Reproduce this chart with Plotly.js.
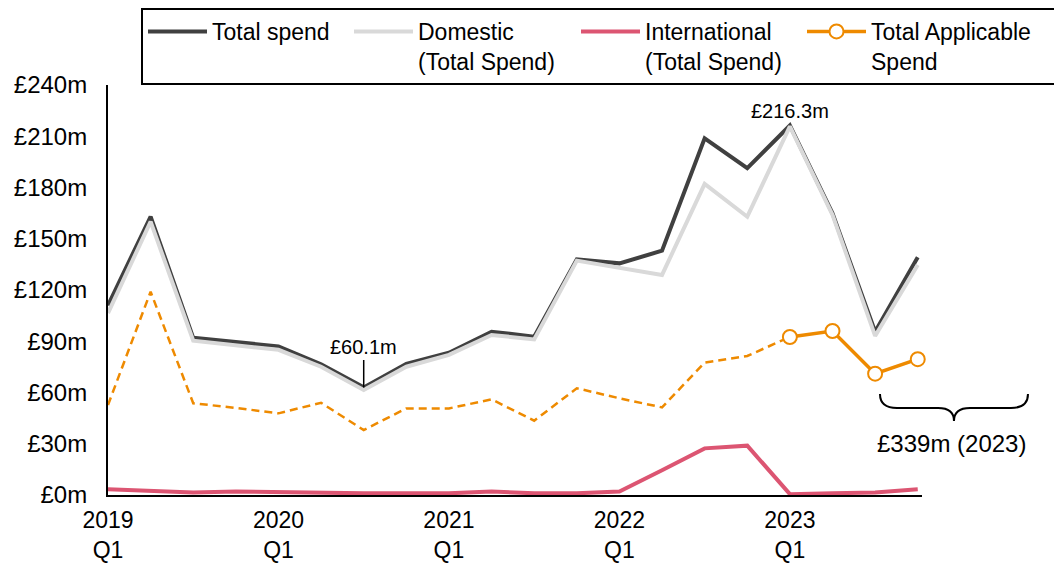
<!DOCTYPE html>
<html>
<head>
<meta charset="utf-8">
<script src="https://cdn.plot.ly/plotly-3.0.1.min.js"></script>
<style>
  html, body { margin: 0; padding: 0; background: #ffffff; }
  #chart { width: 1054px; height: 563px; }
</style>
</head>
<body>
<div id="chart"></div>
<script>
// ---- Data (£ millions) ----
const quarters = [
  '2019 Q1','2019 Q2','2019 Q3','2019 Q4',
  '2020 Q1','2020 Q2','2020 Q3','2020 Q4',
  '2021 Q1','2021 Q2','2021 Q3','2021 Q4',
  '2022 Q1','2022 Q2','2022 Q3','2022 Q4',
  '2023 Q1','2023 Q2','2023 Q3','2023 Q4'
];
const totalSpend = [111, 163, 92, 89.6, 87, 76.5, 63, 76.7, 83.3, 95.6,
                    92.7, 138, 135.6, 143, 208.8, 191.3, 216.3, 164.9, 95.6, 139.2];
const domesticSpend = [106.5, 160, 90.3, 87.8, 85, 75.1, 61.5, 75.1, 82, 93.7,
                       91.1, 137.2, 132.7, 128.8, 182.1, 162.9, 215.8, 164, 93.1, 134.7];
const internationalSpend = [3.3, 2.5, 1.5, 2, 1.5, 1, 1, 1, 1, 2,
                            1, 1, 2, 14.5, 27.3, 28.9, 0.5, 1, 1.5, 3.3];
const applicableSpend = [52.7, 119, 53.7, 51, 47.8, 54, 38, 50.7, 50.7, 56,
                         43.5, 62.5, 56.6, 51.3, 77.5, 81.4, 92.5, 96, 71, 79.5];
const tickQuarterIdx = [0, 4, 8, 12, 16];
const tickLabels = ['2019<br>Q1', '2020<br>Q1', '2021<br>Q1', '2022<br>Q1', '2023<br>Q1'];
const yTickVals = [0, 30, 60, 90, 120, 150, 180, 210, 240];
const yTickText = ['£0m', '£30m', '£60m', '£90m', '£120m', '£150m', '£180m', '£210m', '£240m'];
const lowLabel = '£60.1m';
const lowIdx = 6;
const peakLabel = '£216.3m';
const peakIdx = 16;
const totalLabel2023 = '£339m (2023)';
const solidFrom = 16; // applicable spend drawn solid with markers from 2023 Q1

// ---- Build ----
const xIdx = quarters.map((_, i) => i);
const FONT = 'Arial, "Liberation Sans", sans-serif';
const ORANGE = '#EE8A00';

const traces = [
  {
    x: xIdx, y: totalSpend, type: 'scatter', mode: 'lines',
    name: 'Total spend', legendwidth: 132,
    line: { color: '#404040', width: 4 }
  },
  {
    x: xIdx, y: domesticSpend, type: 'scatter', mode: 'lines',
    name: 'Domestic<br>(Total Spend)', legendwidth: 153,
    line: { color: '#D9D9D9', width: 4 }
  },
  {
    x: xIdx, y: internationalSpend, type: 'scatter', mode: 'lines',
    name: 'International<br>(Total Spend)', legendwidth: 152,
    line: { color: '#DC5572', width: 4 }
  },
  {
    x: xIdx.slice(0, solidFrom + 1), y: applicableSpend.slice(0, solidFrom + 1),
    type: 'scatter', mode: 'lines', showlegend: false,
    line: { color: ORANGE, width: 2.5, dash: '8px,5px' }
  },
  {
    x: xIdx.slice(solidFrom), y: applicableSpend.slice(solidFrom),
    type: 'scatter', mode: 'lines+markers', cliponaxis: false,
    name: 'Total Applicable<br>Spend', legendwidth: 186,
    line: { color: ORANGE, width: 3.5 },
    marker: { symbol: 'circle', size: 14, color: '#ffffff', line: { color: ORANGE, width: 2 } }
  }
];

// plot area in pixels: left 108, right 922, top 85, bottom 495
const PL = 108, PR = 922, PT = 85, PB = 495;
const px2x = px => (px - PL) / (PR - PL);
const px2y = py => (PB - py) / (PB - PT);

function bracePath() {
  const pts = [
    ['M', 880, 394], ['Q', 880, 408, 897, 408], ['L', 938, 408],
    ['Q', 954, 408, 954, 421], ['Q', 954, 408, 970, 408], ['L', 1011, 408],
    ['Q', 1028, 408, 1028, 394]
  ];
  return pts.map(p => {
    let s = p[0];
    for (let i = 1; i < p.length; i += 2) {
      s += ' ' + px2x(p[i]).toFixed(4) + ',' + px2y(p[i + 1]).toFixed(4);
    }
    return s;
  }).join(' ');
}

const layout = {
  width: 1054, height: 563,
  paper_bgcolor: '#ffffff', plot_bgcolor: '#ffffff',
  font: { family: FONT, size: 24, color: '#000000' },
  margin: { l: PL, r: 1054 - PR, t: PT, b: 563 - PB, pad: 0, autoexpand: false },
  showlegend: true,
  legend: {
    orientation: 'h',
    xref: 'paper', yref: 'paper',
    x: px2x(1064), xanchor: 'right',
    y: 1 + (PT - 8) / (PB - PT), yanchor: 'top',
    bordercolor: '#000000', borderwidth: 2,
    bgcolor: '#ffffff',
    font: { family: FONT, size: 23, color: '#000000' },
    itemwidth: 59, valign: 'top',
    traceorder: 'normal'
  },
  xaxis: {
    range: [0, 19.1],
    showgrid: false, zeroline: false,
    showline: true, linecolor: '#000000', linewidth: 2,
    ticks: '', tickmode: 'array',
    tickvals: tickQuarterIdx, ticktext: tickLabels,
    tickfont: { family: FONT, size: 23, color: '#000000' },
    ticklabelstandoff: 3,
    fixedrange: true
  },
  yaxis: {
    range: [0, 240],
    showgrid: false, zeroline: false,
    showline: true, linecolor: '#000000', linewidth: 2,
    ticks: '', tickmode: 'array',
    tickvals: yTickVals, ticktext: yTickText,
    tickfont: { family: FONT, size: 24, color: '#000000' },
    ticklabelstandoff: 14,
    fixedrange: true
  },
  shapes: [
    {
      type: 'path', xref: 'paper', yref: 'paper',
      path: bracePath(),
      line: { color: '#000000', width: 2 }
    }
  ],
  annotations: [
    {
      x: lowIdx, y: totalSpend[lowIdx], xref: 'x', yref: 'y',
      text: lowLabel, showarrow: true, arrowhead: 0, arrowwidth: 1.5,
      arrowcolor: '#000000', ax: 0, ay: -40, standoff: 0,
      font: { family: FONT, size: 20, color: '#000000' }
    },
    {
      x: peakIdx, y: totalSpend[peakIdx], xref: 'x', yref: 'y',
      text: peakLabel, showarrow: false, yanchor: 'bottom', yshift: 1,
      font: { family: FONT, size: 20, color: '#000000' }
    },
    {
      x: px2x(951), y: px2y(443), xref: 'paper', yref: 'paper',
      text: totalLabel2023, showarrow: false,
      xanchor: 'center', yanchor: 'middle',
      font: { family: FONT, size: 24, color: '#000000' }
    }
  ]
};

Plotly.newPlot('chart', traces, layout, { displayModeBar: false, staticPlot: true });
</script>
</body>
</html>
